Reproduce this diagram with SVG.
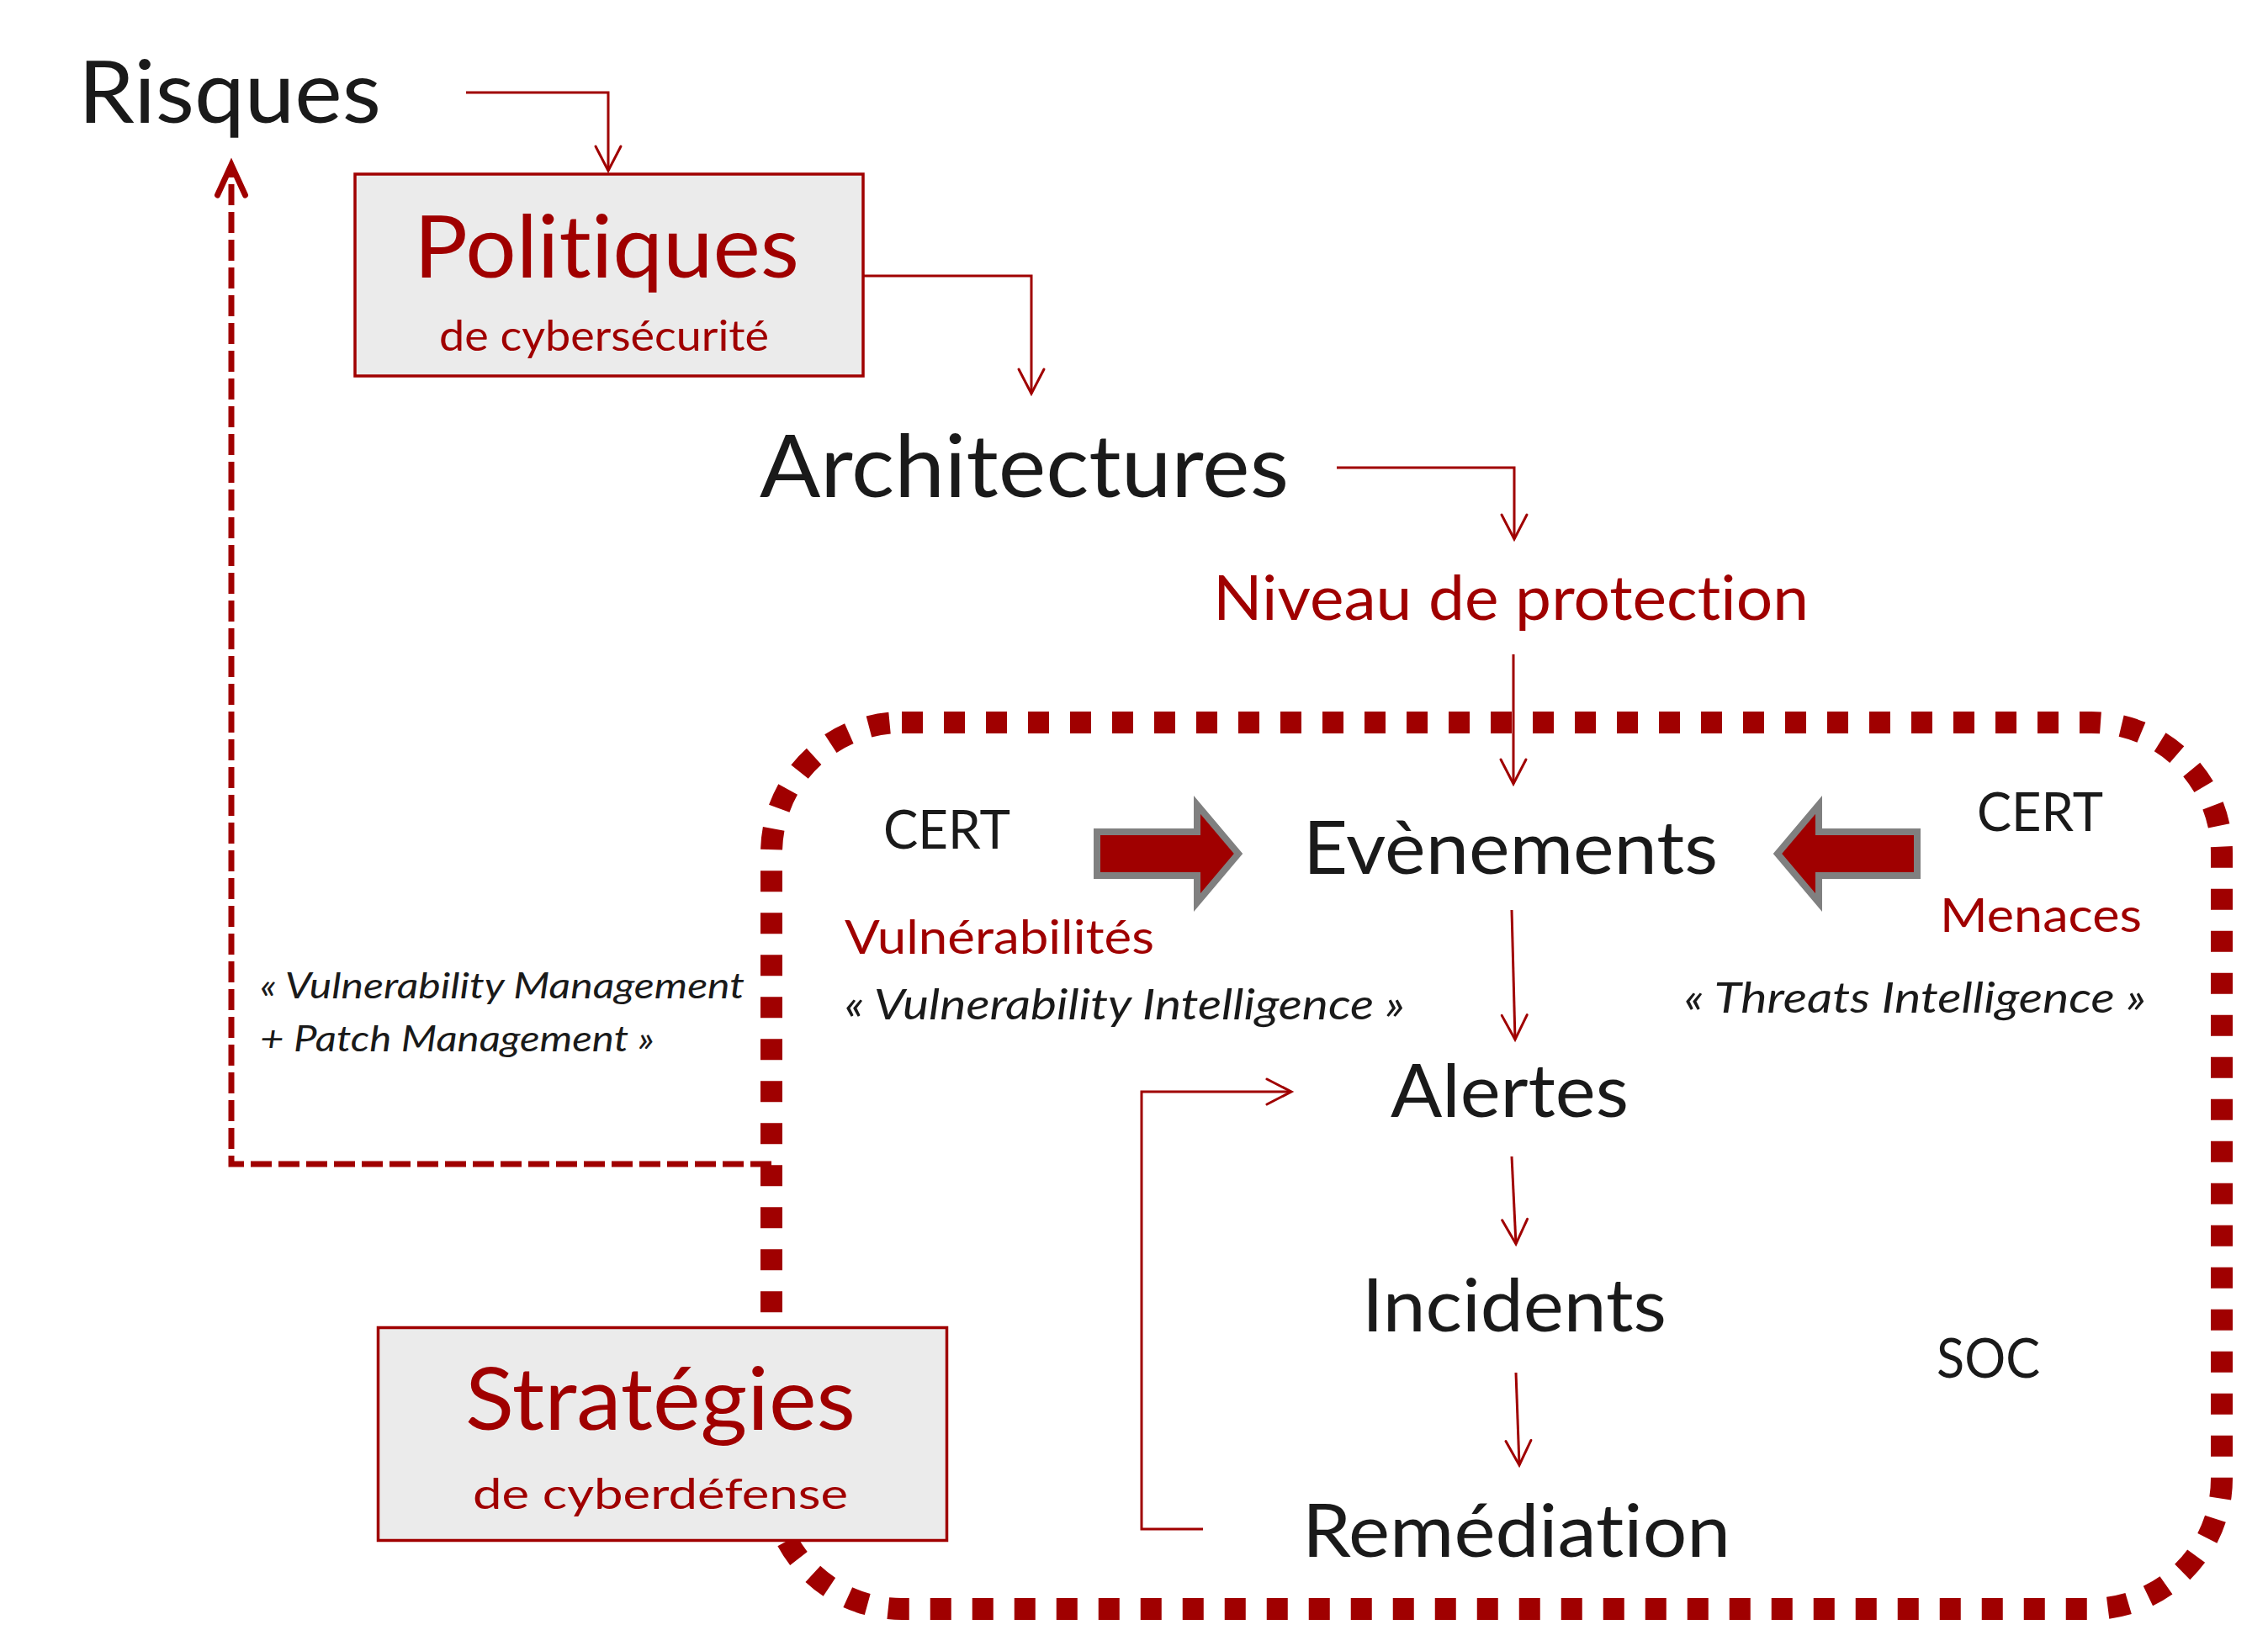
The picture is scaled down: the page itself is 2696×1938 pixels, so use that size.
<svg xmlns="http://www.w3.org/2000/svg" width="2696" height="1938" viewBox="0 0 2696 1938">
<style>
  text { font-family: Lato, "Open Sans", "Liberation Sans", sans-serif; font-variant-ligatures: none; font-feature-settings: "liga" 0, "clig" 0; }
  .blk { fill: #1a1a1a; }
  .red { fill: #a00000; }
  .it { font-style: italic; }
  .box { fill: #ebebeb; stroke: #a00000; stroke-width: 3.5; }
  .conn { fill: none; stroke: #a00000; stroke-width: 3; }
  .loop { fill: none; stroke: #a00000; stroke-width: 7; stroke-dasharray: 25 8; }
  .soc { fill: none; stroke: #a00000; stroke-width: 26; stroke-dasharray: 25 25; }
  .barrow { fill: #a00000; stroke: #808080; stroke-width: 8; stroke-linejoin: miter; }
</style>
<defs>
  <marker id="open" markerUnits="userSpaceOnUse" markerWidth="80" markerHeight="80" refX="0" refY="0" orient="auto" overflow="visible">
    <path d="M-29,-15 L0,0 L-29,15" fill="none" stroke="#a00000" stroke-width="3" stroke-linecap="round"/>
  </marker>
  <marker id="openThick" markerUnits="userSpaceOnUse" markerWidth="100" markerHeight="100" refX="0" refY="0" orient="auto" overflow="visible">
    <path d="M-36,-16.5 L0,0 L-36,16.5" fill="none" stroke="#a00000" stroke-width="7" stroke-dasharray="none" stroke-linecap="round"/>
  </marker>
</defs>
<rect width="2696" height="1938" fill="#ffffff"/>

<g id="soc-boundary">
  <rect class="soc" x="917" y="859" width="1724" height="1054" rx="155" ry="155"/>
</g>

<g id="connectors">
  <path class="conn" d="M554,110 H723 V203" marker-end="url(#open)"/>
  <path class="conn" d="M1027,328 H1226 V468" marker-end="url(#open)"/>
  <path class="conn" d="M1589,556 H1800 V641" marker-end="url(#open)"/>
  <path class="conn" d="M1799,778 V932" marker-end="url(#open)"/>
  <path class="conn" d="M1797,1082 L1801,1236" marker-end="url(#open)"/>
  <path class="conn" d="M1797,1375 L1802,1479" marker-end="url(#open)"/>
  <path class="conn" d="M1802,1632 L1806,1742" marker-end="url(#open)"/>
  <path class="conn" d="M1430,1818 H1357 V1298 H1535" marker-end="url(#open)"/>
  <path class="loop" d="M917,1384 H275 V196" marker-end="url(#openThick)"/>
  <polygon class="barrow" points="1304,989 1423,989 1423,957 1472,1015 1423,1073 1423,1041 1304,1041"/>
  <polygon class="barrow" points="2279,989 2162,989 2162,957 2113,1015 2162,1073 2162,1041 2279,1041"/>
</g>

<g id="risques">
  <text class="blk" x="93" y="146" font-size="103" textLength="360" lengthAdjust="spacingAndGlyphs">Risques</text>
</g>

<g id="politiques">
  <rect class="box" x="422" y="207" width="604" height="240"/>
  <text class="red" x="492" y="330" font-size="102" textLength="458" lengthAdjust="spacingAndGlyphs">Politiques</text>
  <text class="red" x="522" y="417" font-size="51" textLength="392" lengthAdjust="spacingAndGlyphs">de cybersécurité</text>
</g>

<g id="architectures">
  <text class="blk" x="903" y="591" font-size="103" textLength="629" lengthAdjust="spacingAndGlyphs">Architectures</text>
</g>

<g id="niveau">
  <text class="red" x="1442" y="737" font-size="73" textLength="708" lengthAdjust="spacingAndGlyphs">Niveau de protection</text>
</g>

<g id="cert-vuln">
  <text class="blk" x="1050" y="1009" font-size="64" textLength="151" lengthAdjust="spacingAndGlyphs">CERT</text>
  <text class="red" x="1004" y="1134" font-size="57" textLength="368" lengthAdjust="spacingAndGlyphs">Vulnérabilités</text>
  <text class="blk it" x="1004" y="1212" font-size="50" textLength="666" lengthAdjust="spacingAndGlyphs">« Vulnerability Intelligence »</text>
</g>

<g id="cert-menaces">
  <text class="blk" x="2350" y="988" font-size="64" textLength="150" lengthAdjust="spacingAndGlyphs">CERT</text>
  <text class="red" x="2306" y="1108" font-size="57" textLength="240" lengthAdjust="spacingAndGlyphs">Menaces</text>
  <text class="blk it" x="2002" y="1204" font-size="50" textLength="549" lengthAdjust="spacingAndGlyphs">« Threats Intelligence »</text>
</g>

<g id="evenements">
  <text class="blk" x="1549" y="1039" font-size="88" textLength="493" lengthAdjust="spacingAndGlyphs">Evènements</text>
</g>

<g id="alertes">
  <text class="blk" x="1653" y="1328" font-size="88" textLength="283" lengthAdjust="spacingAndGlyphs">Alertes</text>
</g>

<g id="incidents">
  <text class="blk" x="1619" y="1583" font-size="88" textLength="362" lengthAdjust="spacingAndGlyphs">Incidents</text>
</g>

<g id="remediation">
  <text class="blk" x="1548" y="1851" font-size="88" textLength="509" lengthAdjust="spacingAndGlyphs">Remédiation</text>
</g>

<g id="management-label">
  <text class="blk it" x="309" y="1187" font-size="43" textLength="576" lengthAdjust="spacingAndGlyphs">« Vulnerability Management</text>
  <text class="blk it" x="309" y="1250" font-size="43" textLength="469" lengthAdjust="spacingAndGlyphs">+ Patch Management »</text>
</g>

<g id="soc">
  <text class="blk" x="2302" y="1638" font-size="66" textLength="123" lengthAdjust="spacingAndGlyphs">SOC</text>
</g>

<g id="strategies">
  <rect class="box" x="449.5" y="1578.5" width="676" height="253"/>
  <text class="red" x="553" y="1700" font-size="102" textLength="464" lengthAdjust="spacingAndGlyphs">Stratégies</text>
  <text class="red" x="562" y="1794" font-size="51" textLength="446" lengthAdjust="spacingAndGlyphs">de cyberdéfense</text>
</g>
</svg>
